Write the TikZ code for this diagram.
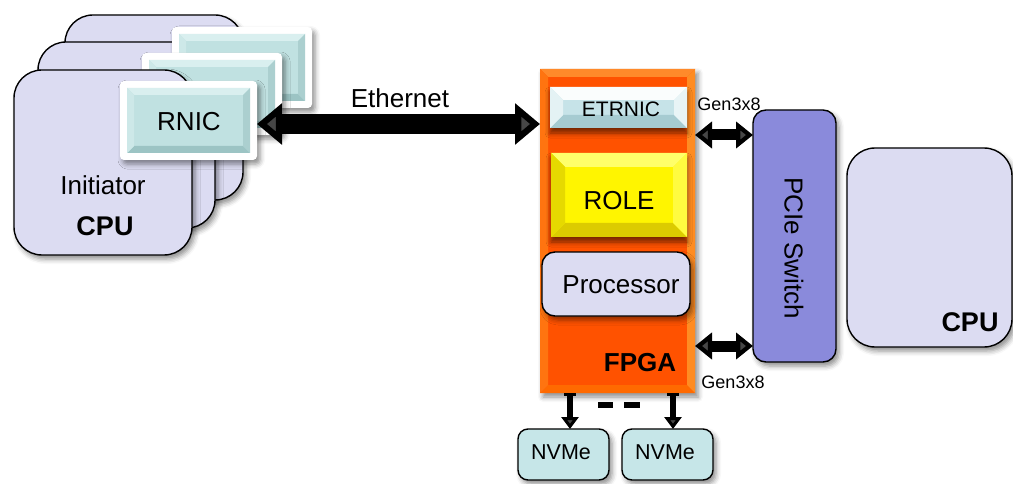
\documentclass[tikz,border=0pt]{standalone}
\usepackage{fontspec}
\setmainfont{Liberation Sans}
\usetikzlibrary{arrows.meta,shadows.blur}

\definecolor{cpufill}{HTML}{DCDCF2}
\definecolor{pciefill}{HTML}{8A8ADB}
\definecolor{nvmefill}{HTML}{C6E6E8}
\definecolor{fpgaouter}{HTML}{FF7A0A}

% bevelled rectangle: x1 y1 x2 y2 depth, colours bvC bvT bvL bvB bvR
\newcommand\bevel[5]{%
  \fill[bvC] (#1,#2) rectangle (#3,#4);
  \fill[bvT] (#1,#2) -- (#3,#2) -- (#3-#5,#2+#5) -- (#1+#5,#2+#5) -- cycle;
  \fill[bvB] (#1,#4) -- (#3,#4) -- (#3-#5,#4-#5) -- (#1+#5,#4-#5) -- cycle;
  \fill[bvL] (#1,#2) -- (#1+#5,#2+#5) -- (#1+#5,#4-#5) -- (#1,#4) -- cycle;
  \fill[bvR] (#3,#2) -- (#3-#5,#2+#5) -- (#3-#5,#4-#5) -- (#3,#4) -- cycle;
}
\newcommand\bevelcolours[5]{%
  \colorlet{bvC}{#1}\colorlet{bvT}{#2}\colorlet{bvL}{#3}\colorlet{bvB}{#4}\colorlet{bvR}{#5}}

% white-framed RNIC card: name x1 y1 x2 y2
\newcommand\rniccard[5]{%
  \node[nicframe, minimum width={#4-#2}, minimum height={#5-#3}] (#1) at ({(#2+#4)/2},{(#3+#5)/2}) {};
  \bevelcolours{nicC}{nicT}{nicL}{nicB}{nicR}%
  \bevel{#2+7}{#3+7}{#4-7}{#5-7}{7}%
}

\definecolor{nicC}{HTML}{C0E1E1}
\definecolor{nicT}{HTML}{D9EFEF}
\definecolor{nicL}{HTML}{CDE8E8}
\definecolor{nicB}{HTML}{9CC4C4}
\definecolor{nicR}{HTML}{ABCFCF}

\begin{document}
\begin{tikzpicture}[x=1pt,y=-1pt,
  every node/.style={inner sep=0pt, outer sep=0pt},
  font=\fontsize{26}{30}\selectfont,
  softshadow/.style={blur shadow={shadow xshift=3pt, shadow yshift=-4pt,
      shadow blur radius=5pt, shadow opacity=45}},
  cpubox/.style={softshadow, draw=black, line width=1.4pt, fill=cpufill, rounded corners=28pt},
  nicframe/.style={softshadow, fill=white, rounded corners=4pt},
  procbox/.style={softshadow, draw=black, line width=1.4pt, fill=cpufill, rounded corners=13pt},
  pciebox/.style={softshadow, draw=black, line width=1.4pt, fill=pciefill, rounded corners=13pt},
  nvmebox/.style={softshadow, draw=black, line width=1.4pt, fill=nvmefill, rounded corners=10pt},
  fatarrow/.style={line width=20pt,
      {Triangle[length=25pt,width=40pt]}-{Triangle[length=25pt,width=40pt]}},
  genarrow/.style={line width=11pt,
      {Triangle[length=17pt,width=26pt]}-{Triangle[length=17pt,width=26pt]}},
  nvarrow/.style={line width=5.5pt,
      {Bar[width=12pt,line width=3pt]}-{Triangle[length=12pt,width=17pt]}},
  smalltext/.style={font=\fontsize{18}{20}\selectfont},
  nvtext/.style={font=\fontsize{21.5}{24}\selectfont},
  boldtext/.style={font=\fontsize{27}{30}\selectfont\bfseries},
]
\useasboundingbox (0,0) rectangle (1013,484);

% ---------- initiator CPUs with their RNIC cards ----------
\node[cpubox, minimum width=178, minimum height=185] (cpu3) at (154,107.5) {};
\node[cpubox, minimum width=177, minimum height=186] (cpu2) at (126.5,135) {};
\rniccard{rnic3}{172}{27}{312}{108}
\rniccard{rnic2}{142}{53}{282}{135}
\node[cpubox, minimum width=178, minimum height=185] (cpu1) at (103,162.5) {};
\rniccard{rnic1}{120}{81}{257}{160}
\node (rniclabel) at (189,122) {RNIC};
\node (initiator) at (103,185) {Initiator};
\node[boldtext] (cpu1label) at (105,226) {CPU};

% ---------- FPGA ----------
\node[softshadow, fill=fpgaouter, minimum width=155, minimum height=324] (fpga) at (617.5,231) {};
\definecolor{bvC}{HTML}{FF5200}
\definecolor{bvT}{HTML}{FF8A2A}
\definecolor{bvL}{HTML}{FF7410}
\definecolor{bvB}{HTML}{FF6A00}
\definecolor{bvR}{HTML}{FF8C22}
\bevel{540}{69}{695}{393}{8}

% ETRNIC block
\fill[blur shadow={shadow xshift=0pt, shadow yshift=-5pt, shadow blur radius=5pt, shadow opacity=55}, fill=white]
  (550,87) rectangle (687,128);
\definecolor{bvC}{HTML}{C6E3E8}
\definecolor{bvT}{HTML}{FAFDFD}
\definecolor{bvL}{HTML}{E4F2F4}
\definecolor{bvB}{HTML}{A6CBD1}
\definecolor{bvR}{HTML}{E8F4F6}
\bevel{550}{87}{687}{128}{13}
\node[minimum width=137, minimum height=41] (etrnic) at (618.5,107.5) {};
\node[font=\fontsize{21}{24}\selectfont] (etrniclabel) at (621,109) {ETRNIC};

% ROLE block
\fill[blur shadow={shadow xshift=0pt, shadow yshift=-5pt, shadow blur radius=5pt, shadow opacity=55}, fill=yellow]
  (551,153) rectangle (687,237);
\definecolor{bvC}{HTML}{FFF500}
\definecolor{bvT}{HTML}{FFFF6A}
\definecolor{bvL}{HTML}{E6D900}
\definecolor{bvB}{HTML}{DCCB00}
\definecolor{bvR}{HTML}{FFFB40}
\bevel{551}{153}{687}{237}{14}
\node[minimum width=136, minimum height=84] (role) at (619,195) {};
\node (rolelabel) at (619,201) {ROLE};

% Processor
\node[procbox, minimum width=148, minimum height=64] (proc) at (616,284) {};
\node (proclabel) at (621,285) {Processor};

\node[font=\fontsize{26}{30}\selectfont\bfseries] (fpgalabel) at (640,363) {FPGA};

% ---------- PCIe switch and host CPU ----------
\node[pciebox, minimum width=83, minimum height=252] (pcie) at (794.5,236) {};
\node[rotate=-90] (pcielabel) at (794,248) {PCIe Switch};

\node[cpubox, minimum width=165, minimum height=199] (cpu0) at (929.5,247.5) {};
\node[boldtext] (cpu0label) at (970,322) {CPU};

% ---------- NVMe drives ----------
\node[nvmebox, minimum width=91, minimum height=51] (nvme1) at (563.5,454.5) {};
\node[nvmebox, minimum width=91, minimum height=51] (nvme2) at (667.5,454.5) {};
\node[nvtext] (nvme1label) at (561,452) {NVMe};
\node[nvtext] (nvme2label) at (665,452) {NVMe};

% ---------- links ----------
\path ([yshift=-3.5pt]rnic1.east) coordinate (ethL);
\draw[fatarrow] (ethL) -- (ethL -| fpga.west);
\node (ethlabel) at (400,98) {Ethernet};

\draw[genarrow] (fpga.east |- 0,135) -- (pcie.west |- 0,135);
\draw[genarrow] (fpga.east |- 0,346) -- (pcie.west |- 0,346);
\node[smalltext] (gen1) at (729,104) {Gen3x8};
\node[smalltext] (gen2) at (733,382) {Gen3x8};

\draw[nvarrow] (fpga.south -| 570,0) -- (nvme1.north -| 570,0);
\draw[nvarrow] (fpga.south -| 673,0) -- (nvme2.north -| 673,0);

% dashes between the drives
\draw[line width=6pt] (598,405) -- (613,405);
\draw[line width=6pt] (624,405) -- (640,405);
\end{tikzpicture}
\end{document}
